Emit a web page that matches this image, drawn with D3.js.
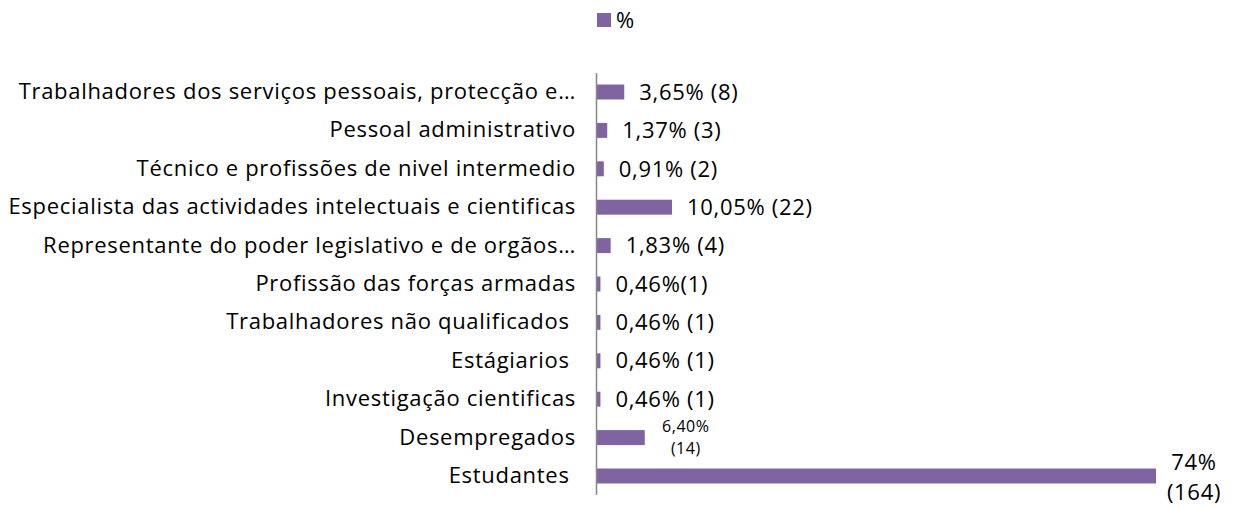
<!DOCTYPE html>
<html>
<head>
<meta charset="utf-8">
<script src="https://cdn.jsdelivr.net/npm/d3@7"></script>
<style>
  body { margin: 0; background: #fff; }
  text { font-family: "Open Sans", sans-serif; fill: #000; white-space: pre; letter-spacing: 0.7px; }
</style>
</head>
<body>
<svg id="chart" width="1237" height="507"></svg>
<script>
const categories = [
  'Trabalhadores dos serviços pessoais, protecção e…',
  'Pessoal administrativo',
  'Técnico e profissões de nivel intermedio',
  'Especialista das actividades intelectuais e cientificas',
  'Representante do poder legislativo e de orgãos…',
  'Profissão das forças armadas',
  'Trabalhadores não qualificados ',
  'Estágiarios ',
  'Investigação cientificas',
  'Desempregados',
  'Estudantes ',
];
const percents = [3.65, 1.37, 0.91, 10.05, 1.83, 0.46, 0.46, 0.46, 0.46, 6.40, 74.89];
const valueLabels = [
  ['3,65% (8)'],
  ['1,37% (3)'],
  ['0,91% (2)'],
  ['10,05% (22)'],
  ['1,83% (4)'],
  ['0,46%(1)'],
  ['0,46% (1)'],
  ['0,46% (1)'],
  ['0,46% (1)'],
  ['6,40%', '(14)'],
  ['74%', '(164)'],
];
const seriesName = '%';

const axisX = 596;
const plotTop = 73;
const plotBottom = 495;
const purple = '#8064a2';
const fontSize = '22px';

const data = categories.map((c, i) => ({ category: c, value: percents[i], label: valueLabels[i] }));

const svg = d3.select('#chart');

const xScale = d3.scaleLinear()
  .domain([0, 74.89])
  .range([axisX, 1155]);

const yScale = d3.scaleBand()
  .domain(categories)
  .range([plotTop, plotBottom])
  .paddingInner(0.61)
  .paddingOuter(0.3);

// legend
const legend = svg.append('g');
legend.append('rect')
  .attr('x', 597).attr('y', 13)
  .attr('width', 14).attr('height', 14)
  .attr('fill', purple);
legend.append('text')
  .text(seriesName)
  .attr('x', 616).attr('y', 20)
  .attr('dy', '0.35em')
  .style('font-size', fontSize);

// bars
svg.append('g')
  .selectAll('rect')
  .data(data)
  .enter()
  .append('rect')
  .attr('x', xScale(0) + 1)
  .attr('y', (d) => yScale(d.category))
  .attr('width', (d) => xScale(d.value) - xScale(0))
  .attr('height', yScale.bandwidth())
  .attr('fill', purple);

// category axis
const leftAxis = d3.axisLeft(yScale).tickSize(0).tickPadding(20);
const axisG = svg.append('g')
  .attr('transform', `translate(${axisX}, 0)`)
  .call(leftAxis);
axisG.select('.domain')
  .attr('d', `M0.5,${plotTop}V${plotBottom}`)
  .attr('stroke', '#868686')
  .attr('stroke-width', 1.5);
axisG.selectAll('.tick text')
  .style('font-family', '"Open Sans", sans-serif')
  .style('font-size', fontSize)
  .attr('fill', '#000');

// value labels
const labels = svg.append('g');
data.forEach((d) => {
  const cy = yScale(d.category) + yScale.bandwidth() / 2;
  const xEnd = xScale(d.value);
  if (d.label.length === 1) {
    labels.append('text')
      .text(d.label[0])
      .attr('x', xEnd + 16)
      .attr('y', cy)
      .attr('dy', '0.35em')
      .style('font-size', fontSize);
  } else if (d.value > 50) {
    d.label.forEach((t, j) => {
      labels.append('text')
        .text(t)
        .attr('x', xEnd + 39)
        .attr('y', cy - 13.5 + j * 30)
        .attr('dy', '0.35em')
        .attr('text-anchor', 'middle')
        .style('font-size', fontSize);
    });
  } else {
    d.label.forEach((t, j) => {
      labels.append('text')
        .text(t)
        .attr('x', xEnd + 42)
        .attr('y', cy - 11 + j * 22)
        .attr('dy', '0.35em')
        .attr('text-anchor', 'middle')
        .style('letter-spacing', '0.5px')
        .style('font-size', '16px');
    });
  }
});
</script>
</body>
</html>
